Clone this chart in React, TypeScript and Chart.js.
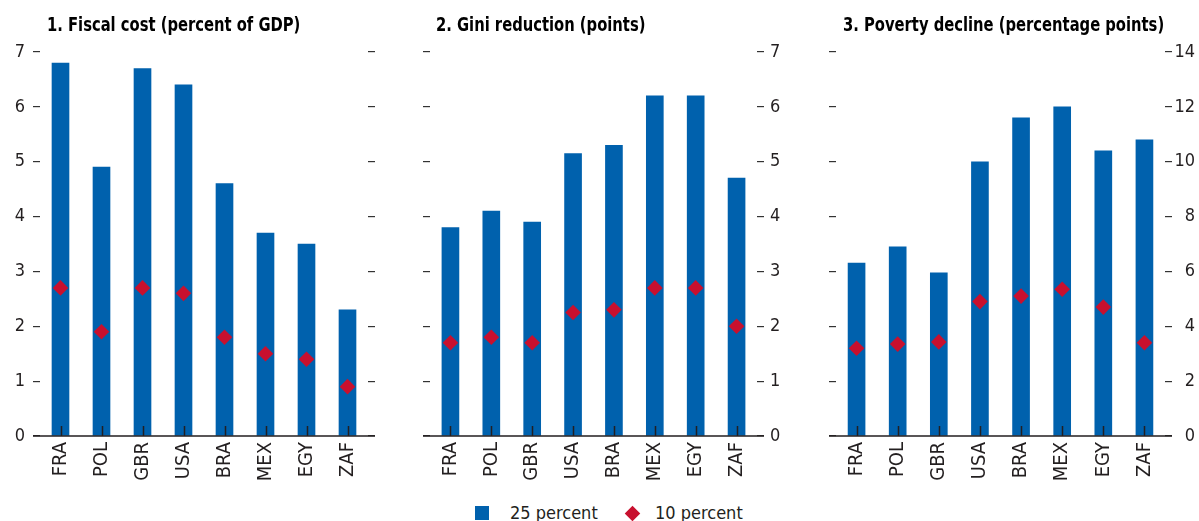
import React, { useEffect, useRef } from "react";
import { Chart, registerables } from "chart.js";

Chart.register(...registerables);

const categories = ["FRA", "POL", "GBR", "USA", "BRA", "MEX", "EGY", "ZAF"];
const seriesLabels = ["25 percent", "10 percent"];

const fiscal25 = [6.8, 4.9, 6.7, 6.4, 4.6, 3.7, 3.5, 2.3];
const fiscal10 = [2.7, 1.9, 2.7, 2.6, 1.8, 1.5, 1.4, 0.9];
const gini25 = [3.8, 4.1, 3.9, 5.15, 5.3, 6.2, 6.2, 4.7];
const gini10 = [1.7, 1.8, 1.7, 2.25, 2.3, 2.7, 2.7, 2.0];
const poverty25 = [6.3, 6.9, 5.95, 10.0, 11.6, 12.0, 10.4, 10.8];
const poverty10 = [3.2, 3.35, 3.43, 4.9, 5.1, 5.35, 4.7, 3.4];

const panelTitles = [
  "1. Fiscal cost (percent of GDP)",
  "2. Gini reduction (points)",
  "3. Poverty decline (percentage points)",
];

const FONT = "'Liberation Sans Narrow', 'Arial Narrow', 'DejaVu Sans Condensed', sans-serif";
const BLUE = "#0061AD";
const RED = "#C8102E";
const TEXT = "#231F20";

const baselinePlugin = {
  id: "baselineTicks",
  afterDatasetsDraw(chart: any) {
    const { ctx, chartArea } = chart;
    const xs = chart.scales.x;
    const ys = chart.scales.y;
    const y0 = ys.getPixelForValue(0);
    ctx.save();
    ctx.strokeStyle = TEXT;
    ctx.lineWidth = 1.5;
    ctx.beginPath();
    ctx.moveTo(chartArea.left - 7, y0);
    ctx.lineTo(chartArea.right + 7, y0);
    for (let i = 0; i < categories.length; i++) {
      const px = Math.round(xs.getPixelForValue(i)) + 0.5;
      ctx.moveTo(px, y0);
      ctx.lineTo(px, y0 - 10);
    }
    ctx.stroke();
    ctx.restore();
  },
};

type PanelProps = {
  title: string;
  bars: number[];
  points: number[];
  max: number;
  step: number;
  labelSide: "left" | "right";
  left: number;
  width: number;
  leftW: number;
  rightW: number;
  titleX: number;
  rightPad: number;
  rightAlign: "near" | "far";
  padRight: number;
};

function Panel(p: PanelProps) {
  const ref = useRef<HTMLCanvasElement | null>(null);
  useEffect(() => {
    if (!ref.current) return;
    const tickFont = { family: FONT, size: 18 };
    const yBase = (pos: "left" | "right", showLabels: boolean, w: number) => ({
      type: "linear",
      position: pos,
      min: 0,
      max: p.max,
      border: { display: false },
      grid: {
        drawOnChartArea: false,
        drawTicks: true,
        tickLength: 7,
        color: "#333333",
        lineWidth: 1.2,
      },
      ticks: {
        display: showLabels,
        stepSize: p.step,
        padding: pos === "left" ? 8 : p.rightPad,
        color: TEXT,
        font: tickFont,
        crossAlign: pos === "right" ? p.rightAlign : "near",
      },
      afterFit: (s: any) => {
        s.width = w;
      },
    });
    const chart = new Chart(ref.current, {
      type: "bar",
      data: {
        labels: categories,
        datasets: [
          {
            type: "line",
            label: seriesLabels[1],
            data: p.points,
            showLine: false,
            pointStyle: "rectRot",
            pointRadius: 7.8,
            pointHoverRadius: 7.8,
            pointBackgroundColor: RED,
            pointBorderWidth: 0,
            borderColor: RED,
            backgroundColor: RED,
            yAxisID: "y",
            order: 0,
          } as any,
          {
            type: "bar",
            label: seriesLabels[0],
            data: p.bars,
            backgroundColor: BLUE,
            barThickness: 17,
            yAxisID: "y",
            order: 1,
          },
        ],
      },
      options: {
        animation: false,
        responsive: false,
        maintainAspectRatio: false,
        events: [],
        layout: { padding: { top: 52, left: 0, right: p.padRight, bottom: 0 } },
        plugins: {
          legend: { display: false },
          tooltip: { enabled: false },
          title: { display: false },
        },
        scales: {
          x: {
            type: "category",
            border: { display: false },
            grid: { display: false, drawTicks: false },
            offset: true,
            ticks: {
              minRotation: 90,
              maxRotation: 90,
              padding: 6,
              color: TEXT,
              font: { family: FONT, size: 20 },
            },
            afterFit: (s: any) => {
              s.height = 54;
            },
          },
          y: yBase("left", p.labelSide === "left", p.leftW) as any,
          y2: yBase("right", p.labelSide === "right", p.rightW) as any,
        },
      } as any,
      plugins: [baselinePlugin],
    });
    return () => chart.destroy();
  }, []);
  return (
    <div style={{ position: "absolute", left: p.left, top: 0, width: p.width, height: 490 }}>
      <canvas ref={ref} width={p.width} height={490} style={{ width: p.width, height: 490 }} />
      <div
        style={{
          position: "absolute",
          left: p.titleX,
          top: 14,
          fontFamily: FONT,
          fontWeight: "bold",
          fontSize: 20,
          lineHeight: "20px",
          color: "#000",
          whiteSpace: "nowrap",
          transform: "scaleX(0.82)",
          transformOrigin: "left top",
        }}
      >
        {p.title}
      </div>
    </div>
  );
}

export default function App() {
  const legendText = {
    position: "absolute" as const,
    top: 504,
    fontFamily: FONT,
    fontSize: 18,
    lineHeight: "18px",
    color: TEXT,
    whiteSpace: "nowrap" as const,
  };
  return (
    <div
      style={{
        position: "absolute",
        left: 0,
        top: 0,
        width: 1199,
        height: 521,
        background: "#fff",
        overflow: "hidden",
      }}
    >
      <Panel title={panelTitles[0]} bars={fiscal25} points={fiscal10} max={7} step={1}
        labelSide="left" left={0} width={400} leftW={40} rightW={32} titleX={47}
        rightPad={6} rightAlign="near" padRight={0} />
      <Panel title={panelTitles[1]} bars={gini25} points={gini10} max={7} step={1}
        labelSide="right" left={400} width={400} leftW={30} rightW={43} titleX={36}
        rightPad={6} rightAlign="near" padRight={0} />
      <Panel title={panelTitles[2]} bars={poverty25} points={poverty10} max={14} step={2}
        labelSide="right" left={800} width={399} leftW={36} rightW={30} titleX={43}
        rightPad={3} rightAlign="far" padRight={4} />
      <span style={{ position: "absolute", left: 475, top: 506, width: 14, height: 14, background: BLUE }} />
      <span style={{ ...legendText, left: 510 }}>{seriesLabels[0]}</span>
      <span
        style={{
          position: "absolute",
          left: 627,
          top: 507.5,
          width: 11,
          height: 11,
          background: RED,
          transform: "rotate(45deg)",
        }}
      />
      <span style={{ ...legendText, left: 655 }}>{seriesLabels[1]}</span>
    </div>
  );
}
